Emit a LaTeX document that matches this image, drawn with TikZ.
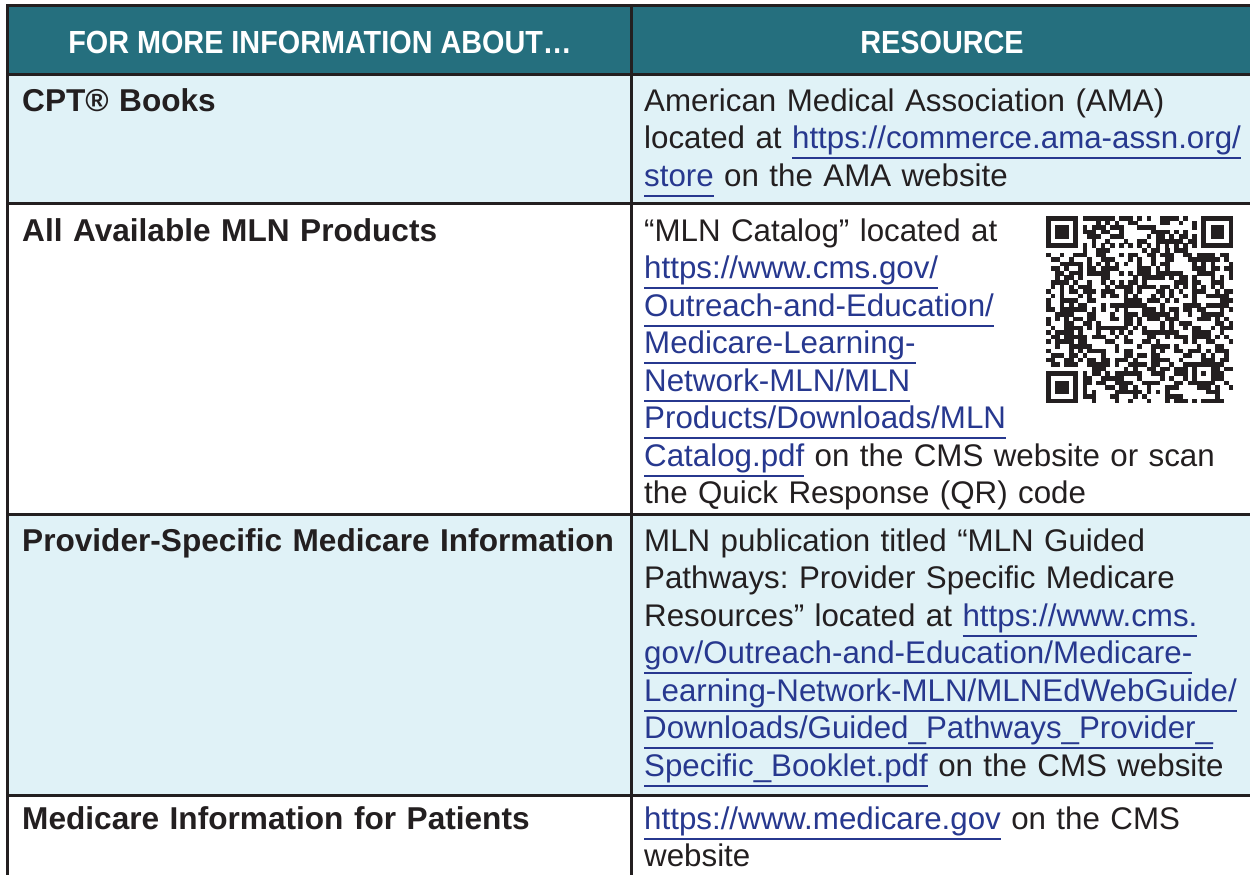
\documentclass[tikz,border=0pt]{standalone}
\usepackage{fontspec}
\setmainfont{Liberation Sans}
\newfontfamily\headfont{Liberation Sans}[FakeStretch=0.9]
\frenchspacing
\definecolor{headteal}{HTML}{256F7E}
\definecolor{rowblue}{HTML}{E0F2F7}
\definecolor{linkblue}{HTML}{27388F}
\definecolor{inktext}{HTML}{231F20}
\newsavebox\linkbox
\newcommand\weblink[1]{\textcolor{linkblue}{\sbox\linkbox{#1}\rlap{\rule[-10.5pt]{\wd\linkbox}{1.8pt}}\usebox\linkbox}}
\newcommand\qrm{4.57}

\begin{document}
\begin{tikzpicture}[x=1pt, y=-1pt,
    cell/.style={anchor=base west, inner sep=0pt, align=left, text width=600pt, text=inktext, font=\fontsize{31.3}{37.5}\selectfont},
    topic/.style={cell, font=\fontsize{31.6}{37.5}\selectfont\bfseries},
    headtext/.style={anchor=base, inner sep=0pt, text=white, font=\headfont\fontsize{32}{37.5}\selectfont\bfseries},
    tablerule/.style={draw=inktext, line width=3pt}]
    \useasboundingbox (0,0) rectangle (1250,875);
    % row backgrounds
    \fill[headteal] (7.5,6) rectangle (1260,75);
    \fill[rowblue] (7.5,75) rectangle (1260,203);
    \fill[white] (7.5,203) rectangle (1260,514);
    \fill[rowblue] (7.5,514) rectangle (1260,795);
    \fill[white] (7.5,795) rectangle (1260,880);
    % table rules
    \draw[tablerule] (7.5,6) -- (1260,6);
    \draw[tablerule] (7.5,75) -- (1260,75);
    \draw[tablerule] (7.5,203) -- (1260,203);
    \draw[tablerule] (7.5,514) -- (1260,514);
    \draw[tablerule] (7.5,795) -- (1260,795);
    \draw[tablerule] (7.5,4.5) -- (7.5,880);
    \draw[tablerule] (631,4.5) -- (631,880);
    % header
    \node[headtext] (hdtopic) at (320,54) {FOR MORE INFORMATION ABOUT…};
    \node[headtext] (hdres) at (942,54) {RESOURCE};
    % topics
    \node[topic] (cpt) at (22,111) {CPT® Books};
    \node[topic] (mln) at (22,241) {All Available MLN Products};
    \node[topic] (prov) at (22,551) {Provider-Specific Medicare Information};
    \node[topic] (patients) at (22,829) {Medicare Information for Patients};
    % resources
    \node[cell] (cptres) at (644,111) {American Medical Association (AMA)\\
        located at \weblink{https://commerce.ama-assn.org/}\\
        \weblink{store} on the AMA website};
    \node[cell] (mlnres) at (644,241) {“MLN Catalog” located at\\
        \weblink{https://www.cms.gov/}\\
        \weblink{Outreach-and-Education/}\\
        \weblink{Medicare-Learning-}\\
        \weblink{Network-MLN/MLN}\\
        \weblink{Products/Downloads/MLN}\\
        \weblink{Catalog.pdf} on the CMS website or scan\\
        the Quick Response (QR) code};
    \node[cell] (provres) at (644,551) {MLN publication titled “MLN Guided\\
        Pathways: Provider Specific Medicare\\
        Resources” located at \weblink{https://www.cms.}\\
        \weblink{gov/Outreach-and-Education/Medicare-}\\
        \weblink{Learning-Network-MLN/MLNEdWebGuide/}\\
        \weblink{Downloads/Guided\_Pathways\_Provider\_}\\
        \weblink{Specific\_Booklet.pdf} on the CMS website};
    \node[cell] (patres) at (644,829) {\weblink{https://www.medicare.gov} on the CMS\\
        website};
    % QR code
    \begin{scope}[shift={(1046,216)}]
        \foreach \fx/\fy in {0/0,34/0,0/34} {
            \fill[inktext] (\fx*\qrm,\fy*\qrm) rectangle ++(7*\qrm,7*\qrm);
            \fill[white] (\fx*\qrm+\qrm,\fy*\qrm+\qrm) rectangle ++(5*\qrm,5*\qrm);
            \fill[inktext] (\fx*\qrm+2*\qrm,\fy*\qrm+2*\qrm) rectangle ++(3*\qrm,3*\qrm);
        }
        \fill[inktext] (32*\qrm,32*\qrm) rectangle ++(5*\qrm,5*\qrm);
        \fill[white] (33*\qrm,33*\qrm) rectangle ++(3*\qrm,3*\qrm);
        \fill[inktext] (34*\qrm,34*\qrm) rectangle ++(\qrm,\qrm);
        \foreach \k in {8,10,...,32} {
            \fill[inktext] (\k*\qrm,6*\qrm) rectangle ++(\qrm,\qrm);
            \fill[inktext] (6*\qrm,\k*\qrm) rectangle ++(\qrm,\qrm);
        }
        \pgfmathsetseed{4242}
        \foreach \r in {0,...,40} {
            \foreach \c in {0,...,40} {
                \pgfmathtruncatemacro\qrskip{((\r<8)&&(\c<8)) || ((\r<8)&&(\c>32)) || ((\r>32)&&(\c<8)) || (\r==6) || (\c==6) || ((\r>31)&&(\r<37)&&(\c>31)&&(\c<37))}
                \pgfmathtruncatemacro\qrdot{rnd<0.5}
                \ifnum\qrskip=0 \ifnum\qrdot=1
                    \fill[inktext] (\c*\qrm,\r*\qrm) rectangle ++(\qrm+0.1,\qrm+0.1);
                \fi\fi
            }
        }
    \end{scope}
\end{tikzpicture}
\end{document}
